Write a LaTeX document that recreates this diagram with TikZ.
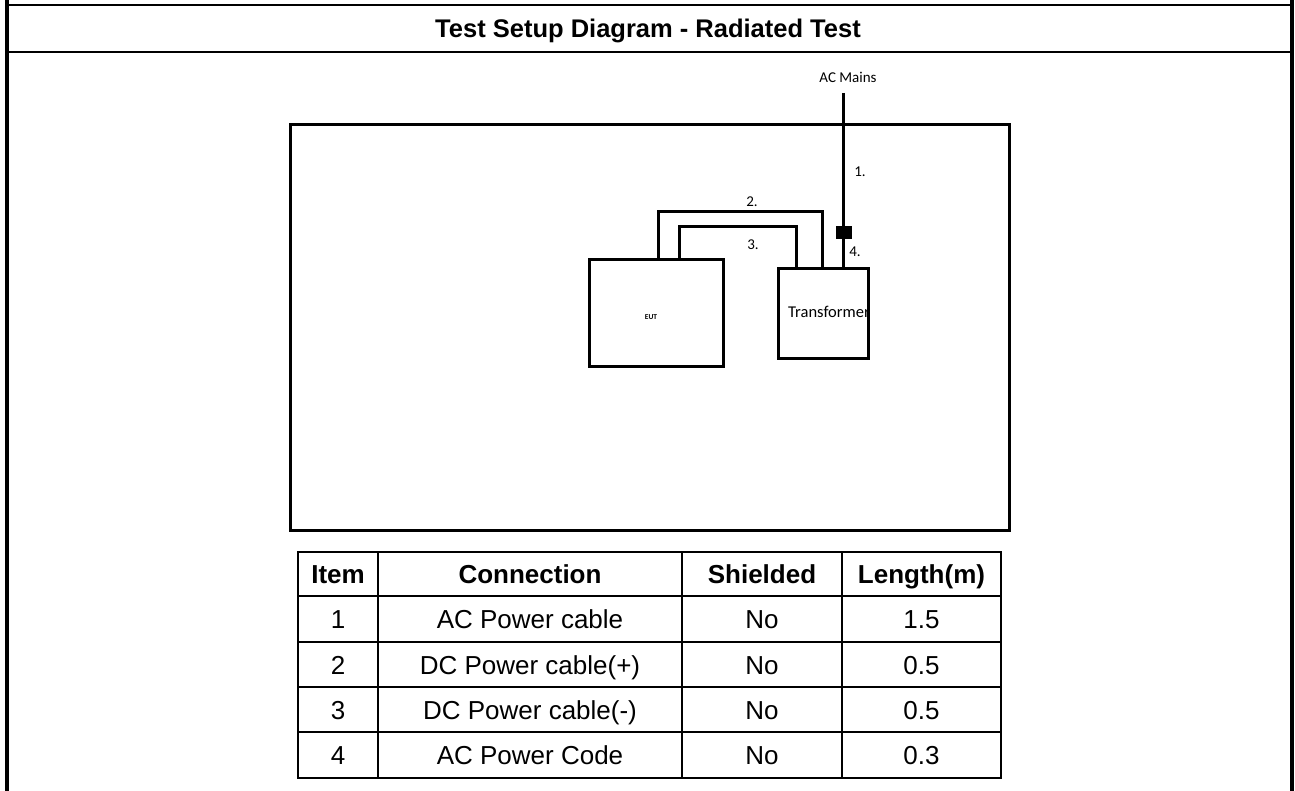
\documentclass[tikz,border=0pt]{standalone}
\usepackage{fontspec}
\setmainfont{Liberation Sans}
\newfontfamily\calfont{Carlito}
\begin{document}
\begin{tikzpicture}[x=1pt,y=-1pt,
  box/.style={draw, line width=3, inner sep=0, outer sep=0},
  plugbox/.style={fill=black, minimum width=16, minimum height=13, inner sep=0, outer sep=0},
  cable/.style={line width=3},
  lbl/.style={font=\calfont\fontsize{15}{18}\selectfont, inner sep=0, anchor=base},
  cell/.style={font=\fontsize{26}{30}\selectfont, inner sep=0, anchor=base},
  head/.style={font=\bfseries\fontsize{26}{30}\selectfont, inner sep=0, anchor=base},
  gridline/.style={line width=2},
]
\fill[white] (0,0) rectangle (1295,791);
\useasboundingbox (0,0) rectangle (1295,791);

% outer frame
\draw[line width=4] (7,0) -- (7,791);
\draw[line width=3.5] (1292,0) -- (1292,791);
\draw[line width=2] (7,5) -- (1292,5);
\draw[line width=2] (7,52) -- (1292,52);
\node[font=\bfseries\fontsize{25.5}{30}\selectfont, inner sep=0, anchor=base] (title) at (648,38) {Test Setup Diagram - Radiated Test};

% test area
\node[box, minimum width=719, minimum height=405] (room) at (649.5,327.5) {};

% EUT
\node[box, minimum width=134, minimum height=106] (eut) at (656,313) {};
\node[font=\calfont\bfseries\fontsize{7.5}{9}\selectfont, inner sep=0, anchor=base] (eutlbl) at (651,319.5) {EUT};

% Transformer
\node[font=\calfont\fontsize{16.5}{20}\selectfont, inner sep=0, anchor=base west] (trlbl) at (788,318) {Transformer};
\node[box, minimum width=90, minimum height=89] (tr) at (823,313.5) {};

% AC mains
\node[lbl] (mains) at (848,83) {AC Mains};
\coordinate (acend) at (843,93);
\node[plugbox] (plug) at (844,232.5) {};
\draw[cable] (acend) -- (plug.north -| acend);
\draw[cable] (plug.south -| acend) -- (tr.north -| acend);

% DC cables
\draw[cable] (eut.north -| 658,0) |- (822,212) -- (tr.north -| 822,0);
\draw[cable] (eut.north -| 679,0) |- (796,227) -- (tr.north -| 796,0);

% cable labels
\node[lbl] (l1) at (860,177) {1.};
\node[lbl] (l2) at (752,206.5) {2.};
\node[lbl] (l3) at (753,250) {3.};
\node[lbl] (l4) at (855,256.5) {4.};

% table
\draw[gridline] (298,552) rectangle (1001,778);
\foreach \x in {378,682,842} \draw[gridline] (\x,552) -- (\x,778);
\foreach \y in {596,642,687,732} \draw[gridline] (298,\y) -- (1001,\y);

\node[head] (hitem) at (338,583.5) {Item};
\node[head] (hconn) at (530,583.5) {Connection};
\node[head] (hshield) at (762,583.5) {Shielded};
\node[head] (hlen) at (921.5,583.5) {Length(m)};

\foreach \i/\y/\b/\d in {1/628.5/AC Power cable/1.5, 2/674/DC Power cable(+)/0.5, 3/719/DC Power cable(-)/0.5, 4/764.5/AC Power Code/0.3}{
  \node[cell] (item\i) at (338,\y) {\i};
  \node[cell] (conn\i) at (530,\y) {\b};
  \node[cell] (shield\i) at (762,\y) {No};
  \node[cell] (len\i) at (921.5,\y) {\d};
}
\end{tikzpicture}
\end{document}
